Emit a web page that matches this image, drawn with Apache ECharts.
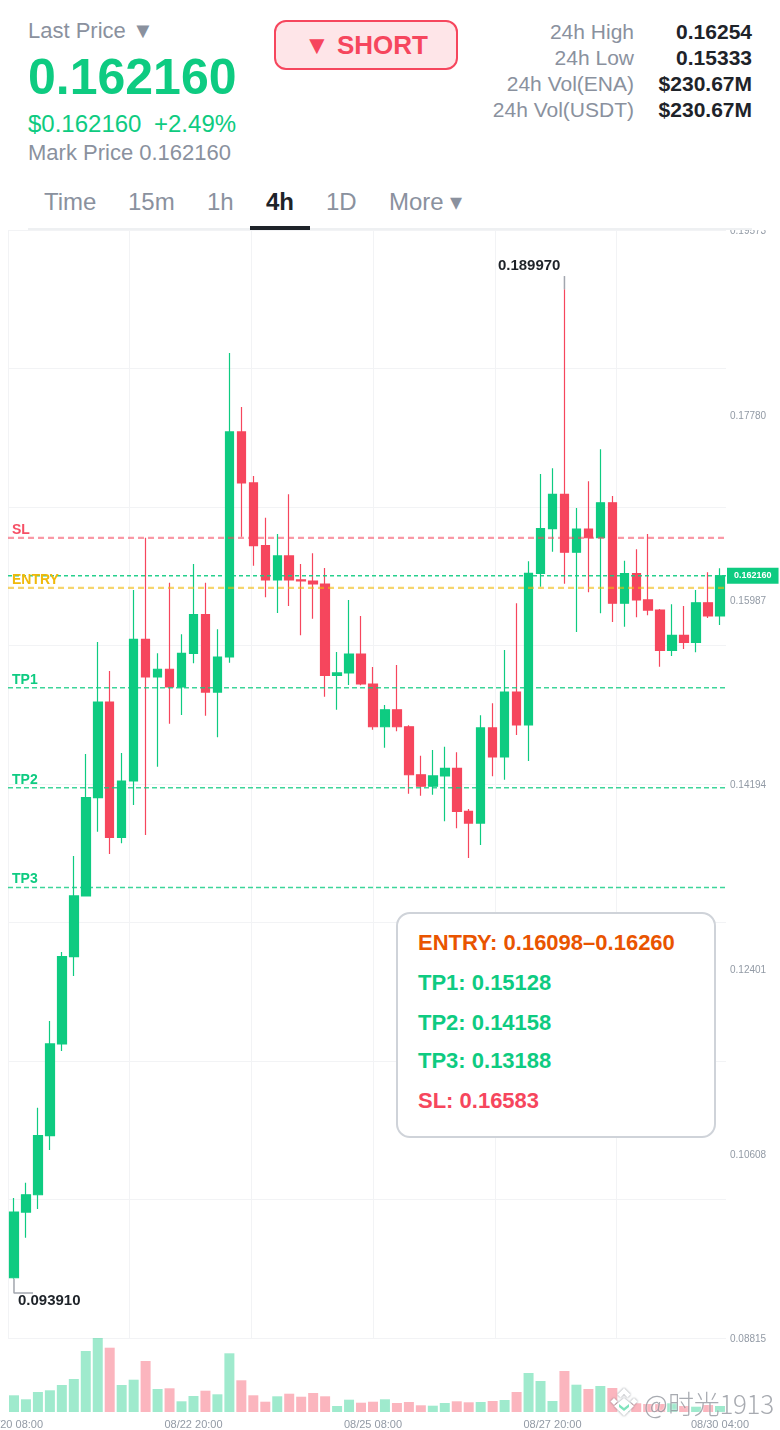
<!DOCTYPE html>
<html><head><meta charset="utf-8">
<script src="https://cdn.jsdelivr.net/npm/echarts@6/dist/echarts.min.js"></script>
<style>
html,body{margin:0;padding:0;background:#fff;width:780px;height:1430px;overflow:hidden;font-family:"Liberation Sans",Arial,sans-serif}
#chart{position:absolute;left:0;top:0;width:780px;height:1430px}
#head{position:absolute;left:0;top:0;width:780px;height:230px;background:#fff;z-index:2}
.t{position:absolute;white-space:nowrap;line-height:1}
.g{color:#8A919E}.up{color:#0ECB81}.dk{color:#1E2329}
#btn{position:absolute;left:274px;top:20px;width:184px;height:50px;box-sizing:border-box;border:2px solid #F6465D;border-radius:12px;background:#FEE5E8;color:#F6465D;font-weight:bold;font-size:26px;line-height:46px;text-align:center}
#box{position:absolute;left:396px;top:912px;width:320px;height:226px;box-sizing:border-box;border:2px solid #CFD3D9;border-radius:14px;background:#fff;z-index:3}
#box .t{left:20px;font-weight:bold;font-size:22px}
#wm{position:absolute;left:0;top:0;z-index:4;pointer-events:none}
</style></head><body>
<div id="chart"></div>
<div id="head">
 <div class="t g" style="left:28px;top:20px;font-size:22px">Last Price ▼</div>
 <div class="t up" style="left:28px;top:52px;font-size:50px;font-weight:bold">0.162160</div>
 <div class="t up" style="left:28px;top:112px;font-size:24px">$0.162160</div>
 <div class="t up" style="left:154px;top:112px;font-size:24px">+2.49%</div>
 <div class="t g" style="left:28px;top:142px;font-size:22px">Mark Price 0.162160</div>
 <div id="btn">▼ SHORT</div>
 <div class="t g" style="right:146px;top:21px;font-size:21px">24h High</div>
 <div class="t g" style="right:146px;top:47px;font-size:21px">24h Low</div>
 <div class="t g" style="right:146px;top:73px;font-size:21px">24h Vol(ENA)</div>
 <div class="t g" style="right:146px;top:99px;font-size:21px">24h Vol(USDT)</div>
 <div class="t dk" style="right:28px;top:21px;font-size:21px;font-weight:bold">0.16254</div>
 <div class="t dk" style="right:28px;top:47px;font-size:21px;font-weight:bold">0.15333</div>
 <div class="t dk" style="right:28px;top:73px;font-size:21px;font-weight:bold">$230.67M</div>
 <div class="t dk" style="right:28px;top:99px;font-size:21px;font-weight:bold">$230.67M</div>
 <div class="t g" style="left:44px;top:190px;font-size:24px">Time</div>
 <div class="t g" style="left:128px;top:190px;font-size:24px">15m</div>
 <div class="t g" style="left:207px;top:190px;font-size:24px">1h</div>
 <div class="t dk" style="left:266px;top:190px;font-size:24px;font-weight:bold">4h</div>
 <div class="t g" style="left:326px;top:190px;font-size:24px">1D</div>
 <div class="t g" style="left:389px;top:190px;font-size:24px">More ▾</div>
 <div style="position:absolute;left:28px;top:228px;width:724px;height:2px;background:#EEF0F2"></div>
 <div style="position:absolute;left:250px;top:226px;width:60px;height:4px;background:#1E2329"></div>
</div>
<div id="box">
 <div class="t" style="top:18px;color:#E95400">ENTRY: 0.16098–0.16260</div>
 <div class="t" style="top:58px;color:#0ECB81">TP1: 0.15128</div>
 <div class="t" style="top:98px;color:#0ECB81">TP2: 0.14158</div>
 <div class="t" style="top:136px;color:#0ECB81">TP3: 0.13188</div>
 <div class="t" style="top:176px;color:#F6465D">SL: 0.16583</div>
</div>
<div id="wm">
 <svg style="position:absolute;left:609px;top:1387px;filter:drop-shadow(0 0 1px rgba(90,95,105,.7))" width="30" height="30" viewBox="0 0 30 30">
  <g fill="#fff">
   <path d="M15 1l6.5 6.5-3 3L15 7l-3.500 3.500-3-3z"/><path d="M5 11l3.500 3.500L5 18l-3.500-3.500z"/><path d="M25 11l3.500 3.500L25 18l-3.500-3.500z"/>
   <path d="M15 11l10 8-10 10-10-10z"/>
  </g>
  <path d="M10 17l5 4 5-4v3l-5 4-5-4z" fill="#7FE3BC"/>
 </svg>
 <div class="t" style="left:644px;top:1390px;font-size:26px;color:rgba(110,115,125,.6);text-shadow:0 0 2px rgba(255,255,255,.95);font-family:'Noto Sans CJK SC','Liberation Sans',sans-serif;font-weight:300">@</div>
 <div class="t" style="left:668px;top:1390px;font-size:26px;letter-spacing:-.3px;color:rgba(110,115,125,.6);text-shadow:0 0 2px rgba(255,255,255,.95);font-family:'Noto Sans CJK SC','Liberation Sans',sans-serif;font-weight:300">时光1913</div>
</div>
<script>
var categories=['08/20 08:00','08/20 12:00','08/20 16:00','08/20 20:00','08/21 00:00','08/21 04:00','08/21 08:00','08/21 12:00','08/21 16:00','08/21 20:00',
'08/22 00:00','08/22 04:00','08/22 08:00','08/22 12:00','08/22 16:00','08/22 20:00','08/23 00:00','08/23 04:00','08/23 08:00','08/23 12:00',
'08/23 16:00','08/23 20:00','08/24 00:00','08/24 04:00','08/24 08:00','08/24 12:00','08/24 16:00','08/24 20:00','08/25 00:00','08/25 04:00',
'08/25 08:00','08/25 12:00','08/25 16:00','08/25 20:00','08/26 00:00','08/26 04:00','08/26 08:00','08/26 12:00','08/26 16:00','08/26 20:00',
'08/27 00:00','08/27 04:00','08/27 08:00','08/27 12:00','08/27 16:00','08/27 20:00','08/28 00:00','08/28 04:00','08/28 08:00','08/28 12:00',
'08/28 16:00','08/28 20:00','08/29 00:00','08/29 04:00','08/29 08:00','08/29 12:00','08/29 16:00','08/29 20:00','08/30 00:00','08/30 04:00'];
var opens=[.09400,.10038,.10206,.10779,.11670,.12517,.13107,.14061,.14990,.13676,.14223,.15599,.15233,.15308,.15136,.15463,.15838,.15087,.15427,.17612,.17117,.16508,.16175,.16408,.16175,.16165,.16136,.15249,.15272,.15456,.15165,.14750,.14915,.14750,.14284,.14172,.14272,.14346,.13929,.13815,.14738,.14456,.15087,.14767,.16240,.16673,.17007,.16444,.16670,.16585,.16925,.15949,.16236,.15981,.15883,.15492,.15638,.15570,.15954,.15825];
var closes=[.10038,.10206,.10779,.11670,.12517,.13107,.14061,.14990,.13676,.14223,.15599,.15233,.15308,.15136,.15463,.15838,.15087,.15427,.17612,.17117,.16508,.16175,.16408,.16175,.16165,.16136,.15249,.15272,.15456,.15165,.14750,.14915,.14750,.14284,.14172,.14272,.14346,.13929,.13815,.14738,.14456,.15087,.14767,.16240,.16673,.17007,.16444,.16670,.16585,.16925,.15949,.16236,.15981,.15883,.15492,.15638,.15570,.15954,.15825,.16216];
var highs=[.10174,.10323,.11051,.11893,.12563,.13495,.14485,.15573,.15291,.14495,.16078,.16585,.15463,.16149,.15648,.16330,.16149,.15696,.18379,.17854,.17185,.16780,.16621,.17007,.16330,.16434,.16291,.15476,.15981,.15825,.15330,.14961,.15349,.14764,.14469,.14524,.14556,.14502,.13951,.14861,.14978,.15495,.15949,.16356,.17204,.17259,.18997,.16874,.17133,.17444,.16990,.16362,.16473,.16621,.15893,.15939,.15922,.16078,.16250,.16288];
var lows=[.09391,.09789,.10068,.10640,.11602,.12330,.13107,.13731,.13514,.13618,.13990,.13699,.14362,.14780,.14864,.15366,.14857,.14647,.15372,.16595,.16314,.16007,.15854,.15922,.15638,.15799,.15042,.14915,.15155,.15152,.14721,.14546,.14706,.14100,.14080,.14090,.13832,.13764,.13476,.13602,.14269,.14236,.14670,.14417,.16110,.16450,.16139,.15670,.16055,.15851,.15767,.15721,.15813,.15832,.15333,.15437,.15505,.15473,.15806,.15738];
var volumes=[16.7,12.7,20,21.7,27,33,61,74,64.3,27,32.3,51,23,23.7,10.7,16,21.3,17.7,58.7,31.7,16.7,10.3,15.7,18.3,15.3,19,15.7,6,12.3,9.3,10.3,12.7,9,10,6.7,6.3,9,10.7,9.7,10,11,12,20,39,31,11,41,27.3,23,26,24,8.7,8.7,8,8,8.7,6,5.3,7,6];
var priceTicks=[0.08815,0.10608,0.12401,0.14194,0.15987,0.17780,0.19573];
var timeTickIndex=[0,15,30,45,59];
var lastPrice=0.16216, entryLevel=0.16098, slLevel=0.16583, tp1=0.15128, tp2=0.14158, tp3=0.13188;
var highMark=[46,0.18997], lowMark=[0,0.09391];
var UP='#0ECB81',DOWN='#F6465D',GRID='#F2F3F5',AX='#929AA5';
var chart=echarts.init(document.getElementById('chart'),null,{renderer:'canvas'});
var XL=-0.5,XR=59.5;
function overlay(points,style){
  return {type:'line',xAxisIndex:3,yAxisIndex:0,data:points,symbol:'circle',symbolSize:0,showSymbol:true,showAllSymbol:true,silent:true,clip:false,z:5,lineStyle:style,itemStyle:{color:'transparent'},animation:false,emphasis:{disabled:true}};
}
function level(v,name,color,style){
  return overlay([{value:[XL,v],label:{show:true,formatter:name,position:'right',distance:4,offset:[0,-8],color:color,fontSize:14,fontWeight:'bold'}},[XR,v]],style);
}
var conn={color:'#A2A6AE',width:1.5,type:'solid'};
chart.setOption({
  animation:false,
  textStyle:{fontFamily:'Liberation Sans'},
  grid:[{left:8,right:54,top:230,height:1108,outerBoundsMode:'none'},{left:8,right:54,top:1338,height:74,outerBoundsMode:'none'}],
  xAxis:[
    {type:'category',gridIndex:0,data:categories,axisLine:{show:false},axisTick:{show:false},axisLabel:{show:false},splitLine:{show:false}},
    {type:'value',gridIndex:0,min:0,max:5.9,interval:1,axisLine:{show:false},axisTick:{show:false},axisLabel:{show:false},splitLine:{show:true,showMaxLine:false,lineStyle:{color:GRID,width:1}}},
    {type:'category',gridIndex:1,data:categories,axisLine:{show:false},axisTick:{show:false},splitLine:{show:false},
     axisLabel:{color:AX,fontSize:11,margin:7,hideOverlap:false,interval:function(i){return timeTickIndex.indexOf(i)>=0;}}},
    {type:'value',gridIndex:0,min:XL,max:XR,show:false,splitLine:{show:false}}
  ],
  yAxis:[
    {type:'value',gridIndex:0,position:'right',min:0.08815,max:0.19573,axisLine:{show:false},axisTick:{show:false},splitLine:{show:false},
     axisLabel:{margin:4,customValues:priceTicks,formatter:function(v){return '{p|'+v.toFixed(5)+'}';},
       rich:{p:{color:AX,fontSize:10,padding:[3,0,0,0]}}}},
    {type:'value',gridIndex:0,position:'left',min:0,max:8,interval:1,axisLine:{show:false},axisTick:{show:false},axisLabel:{show:false},splitLine:{show:true,lineStyle:{color:GRID,width:1}}},
    {type:'value',gridIndex:1,min:0,max:74,axisLine:{show:false},axisTick:{show:false},axisLabel:{show:false},splitLine:{show:false}}
  ],
  series:[
   {type:'candlestick',xAxisIndex:0,yAxisIndex:0,barWidth:9,clip:false,
    data:categories.map(function(c,i){return [opens[i],closes[i],lows[i],highs[i]];}),
    itemStyle:{color:UP,color0:DOWN,borderColor:UP,borderColor0:DOWN,borderWidth:1.2},
    markPoint:{symbol:'circle',symbolSize:0,silent:true,data:[
      {coord:highMark,value:'0.189970',label:{show:true,formatter:'0.189970',position:'left',distance:4,offset:[0,-23],color:'#1E2329',fontSize:15,fontWeight:'bold'}},
      {coord:lowMark,value:'0.093910',label:{show:true,formatter:'0.093910',position:'right',distance:4,offset:[0,22],color:'#1E2329',fontSize:15,fontWeight:'bold'}}
    ]}
   },
   level(slLevel,'SL','rgba(246,70,93,.95)',{color:'rgba(246,70,93,.55)',width:2.2,type:[6,4]}),
   level(entryLevel,'ENTRY','#F0B90B',{color:'rgba(240,185,11,.6)',width:2.2,type:[6,4]}),
   level(tp1,'TP1',UP,{color:'rgba(14,203,129,.8)',width:1.5,type:[5,3]}),
   level(tp2,'TP2',UP,{color:'rgba(14,203,129,.8)',width:1.5,type:[5,3]}),
   level(tp3,'TP3',UP,{color:'rgba(14,203,129,.8)',width:1.5,type:[5,3]}),
   overlay([[XL,lastPrice],{value:[XR,lastPrice],label:{show:true,formatter:'0.162160',position:'right',distance:1,color:'#fff',backgroundColor:UP,fontSize:9,fontWeight:'bold',padding:[4,7,3,7]}}],{color:'rgba(14,203,129,.9)',width:1.3,type:[4,3]}),
   overlay([highMark,[46,0.19126]],conn),
   overlay([[0,0.09391],[0,0.09252],[1.59,0.09252]],conn),
   {type:'bar',xAxisIndex:2,yAxisIndex:2,barWidth:10,
    data:volumes.map(function(v,i){return {value:v,itemStyle:{color:closes[i]>=opens[i]?'rgba(14,203,129,.4)':'rgba(246,70,93,.4)'}};})}
  ]
});
</script>
</body></html>
